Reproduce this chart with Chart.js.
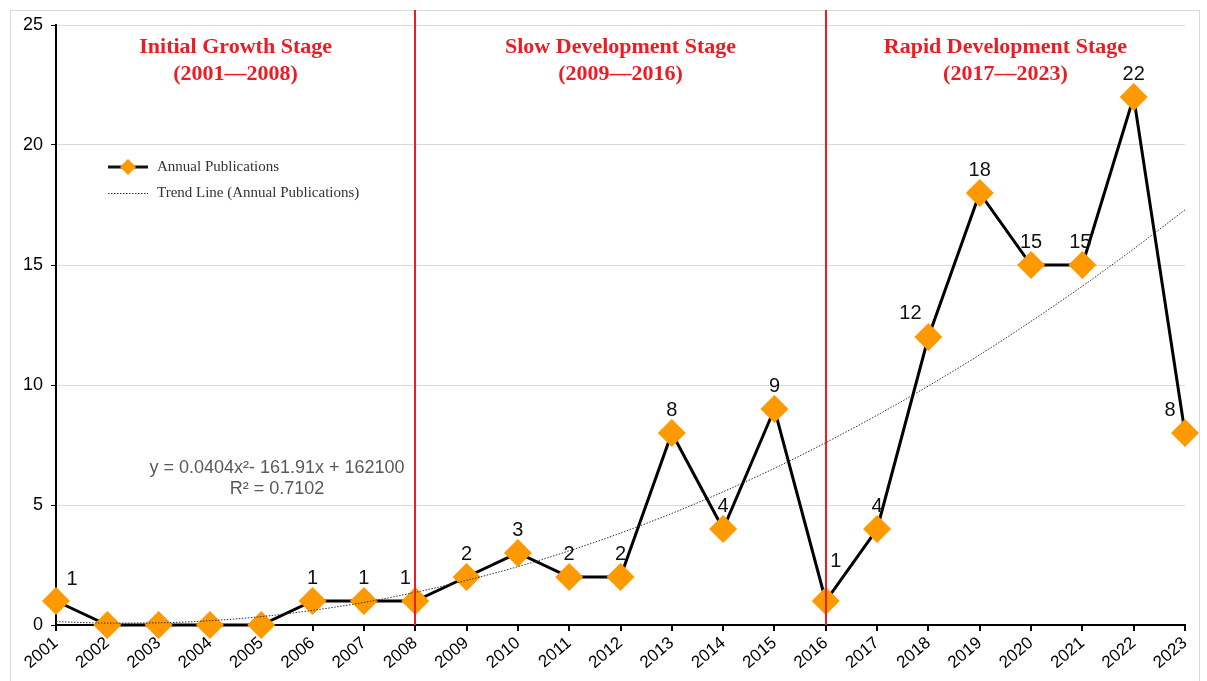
<!DOCTYPE html>
<html>
<head>
<meta charset="utf-8">
<script src="https://cdn.jsdelivr.net/npm/chart.js@4.4.1/dist/chart.umd.min.js"></script>
<style>
  html, body { margin: 0; padding: 0; background: #fff; }
  #wrap { width: 1207px; height: 681px; position: relative; }
</style>
</head>
<body>
<div id="wrap"><canvas id="myChart" width="1207" height="681"></canvas></div>
<script>
// years on the x axis
const years = ['2001','2002','2003','2004','2005','2006','2007','2008','2009','2010','2011','2012',
  '2013','2014','2015','2016','2017','2018','2019','2020','2021','2022','2023'];

// annual publications
const publications = [1, 0, 0, 0, 0, 1, 1, 1, 2, 3, 2, 2, 8, 4, 9, 1, 4, 12, 18, 15, 15, 22, 8];

// dotted trend line
const trend = [0.14, 0.08, 0.09, 0.18, 0.35, 0.61, 0.94, 1.36, 1.86, 2.43, 3.09, 3.83,
  4.65, 5.55, 6.53, 7.6, 8.74, 9.96, 11.26, 12.65, 14.12, 15.67, 17.3];

const yTicks = [0, 5, 10, 15, 20, 25];

const stages = [
  { name: 'Initial Growth Stage', span: '(2001\u20142008)', from: '2001', to: '2008' },
  { name: 'Slow Development Stage', span: '(2009\u20142016)', from: '2008', to: '2016' },
  { name: 'Rapid Development Stage', span: '(2017\u20142023)', from: '2016', to: '2023' }
];
const stageLines = ['2008', '2016'];

const RED = '#ED1C24';
const ORANGE = '#FF9900';

// label nudges for a few points (dx, dy from the point)
const labelNudge = { 0: [16, -22], 7: [-10, -23], 15: [10, -40], 17: [-18, -24], 20: [-2, -23], 22: [-15, -23] };

const extras = {
  id: 'extras',
  beforeDraw(chart) {
    const c = chart.ctx;
    c.save();
    c.fillStyle = '#fff';
    c.fillRect(0, 0, chart.width, chart.height);
    c.strokeStyle = '#d9d9d9';
    c.lineWidth = 1;
    c.strokeRect(10.5, 10.5, 1189, 700);
    c.restore();
  },
  afterDatasetsDraw(chart) {
    const c = chart.ctx;
    const x = chart.scales.x;
    const area = chart.chartArea;
    c.save();

    // stage separators
    c.strokeStyle = RED;
    c.lineWidth = 2;
    stageLines.forEach(s => {
      const px = Math.round(x.getPixelForValue(years.indexOf(s)));
      c.beginPath();
      c.moveTo(px, 10);
      c.lineTo(px, area.bottom);
      c.stroke();
    });

    // stage titles
    c.fillStyle = RED;
    c.font = 'bold 22px "Liberation Serif", "Times New Roman", serif';
    c.textAlign = 'center';
    c.textBaseline = 'middle';
    stages.forEach(st => {
      const a = x.getPixelForValue(years.indexOf(st.from));
      const b = x.getPixelForValue(years.indexOf(st.to));
      const cx = (a + b) / 2;
      c.fillText(st.name, cx, 47);
      c.fillText(st.span, cx, 74);
    });

    // value labels
    const meta = chart.getDatasetMeta(1);
    c.fillStyle = '#111';
    c.font = '20px "Liberation Sans", Arial, sans-serif';
    publications.forEach((v, i) => {
      if (v === 0) return;
      const pt = meta.data[i];
      const n = labelNudge[i] || [0, -23];
      c.fillText(String(v), pt.x + n[0], pt.y + n[1]);
    });

    // legend
    c.textAlign = 'left';
    c.font = '15px "Liberation Serif", "Times New Roman", serif';
    c.strokeStyle = '#111';
    c.lineWidth = 3;
    c.beginPath();
    c.moveTo(108, 167); c.lineTo(148, 167);
    c.stroke();
    c.fillStyle = ORANGE;
    c.beginPath();
    c.moveTo(128, 159); c.lineTo(136, 167); c.lineTo(128, 175); c.lineTo(120, 167);
    c.closePath(); c.fill();
    c.fillStyle = '#333';
    c.fillText('Annual Publications', 157, 167);
    c.strokeStyle = '#333';
    c.lineWidth = 1;
    c.setLineDash([1.5, 1.5]);
    c.beginPath();
    c.moveTo(108, 193.5); c.lineTo(148, 193.5);
    c.stroke();
    c.setLineDash([]);
    c.fillText('Trend Line (Annual Publications)', 157, 193);

    // regression equation
    c.textAlign = 'center';
    c.fillStyle = '#595959';
    c.font = '18px "Liberation Sans", Arial, sans-serif';
    c.fillText('y = 0.0404x\u00b2- 161.91x + 162100', 277, 468);
    c.fillText('R\u00b2 = 0.7102', 277, 489);
    c.restore();
  }
};

const ctx = document.getElementById('myChart').getContext('2d');

const myChart = new Chart(ctx, {
  type: 'line',
  data: {
    labels: years,
    datasets: [
      {
        label: 'Trend Line (Annual Publications)',
        data: trend,
        borderColor: '#333',
        borderWidth: 1,
        borderDash: [1.5, 1.5],
        pointRadius: 0,
        cubicInterpolationMode: 'monotone',
        fill: false
      },
      {
        label: 'Annual Publications',
        data: publications,
        borderColor: '#000',
        borderWidth: 3,
        pointStyle: 'rectRot',
        pointRadius: 14,
        pointBackgroundColor: ORANGE,
        pointBorderColor: ORANGE,
        pointBorderWidth: 0,
        tension: 0,
        clip: false,
        fill: false
      }
    ]
  },
  options: {
    responsive: false,
    animation: false,
    layout: { padding: { top: 25, right: 22, left: 0, bottom: 0 } },
    plugins: {
      legend: { display: false },
      tooltip: { enabled: false }
    },
    scales: {
      x: {
        offset: false,
        afterFit(s) { s.height = 56; },
        border: { color: '#000', width: 2 },
        grid: { display: true, drawOnChartArea: false, tickColor: '#000', tickLength: 6, lineWidth: 2 },
        ticks: {
          color: '#000',
          font: { family: '"Liberation Sans", Arial, sans-serif', size: 17 },
          minRotation: 40,
          maxRotation: 40,
          autoSkip: false,
          padding: 2
        }
      },
      y: {
        min: 0,
        max: 25,
        afterFit(s) { s.width = 56; },
        afterBuildTicks(s) { s.ticks = yTicks.map(v => ({ value: v })); },
        border: { color: '#000', width: 2 },
        grid: { color: '#d9d9d9', lineWidth: 1, tickColor: '#000', tickLength: 5 },
        ticks: {
          color: '#000',
          font: { family: '"Liberation Sans", Arial, sans-serif', size: 18 },
          padding: 8
        }
      }
    }
  },
  plugins: [extras]
});
</script>
</body>
</html>
